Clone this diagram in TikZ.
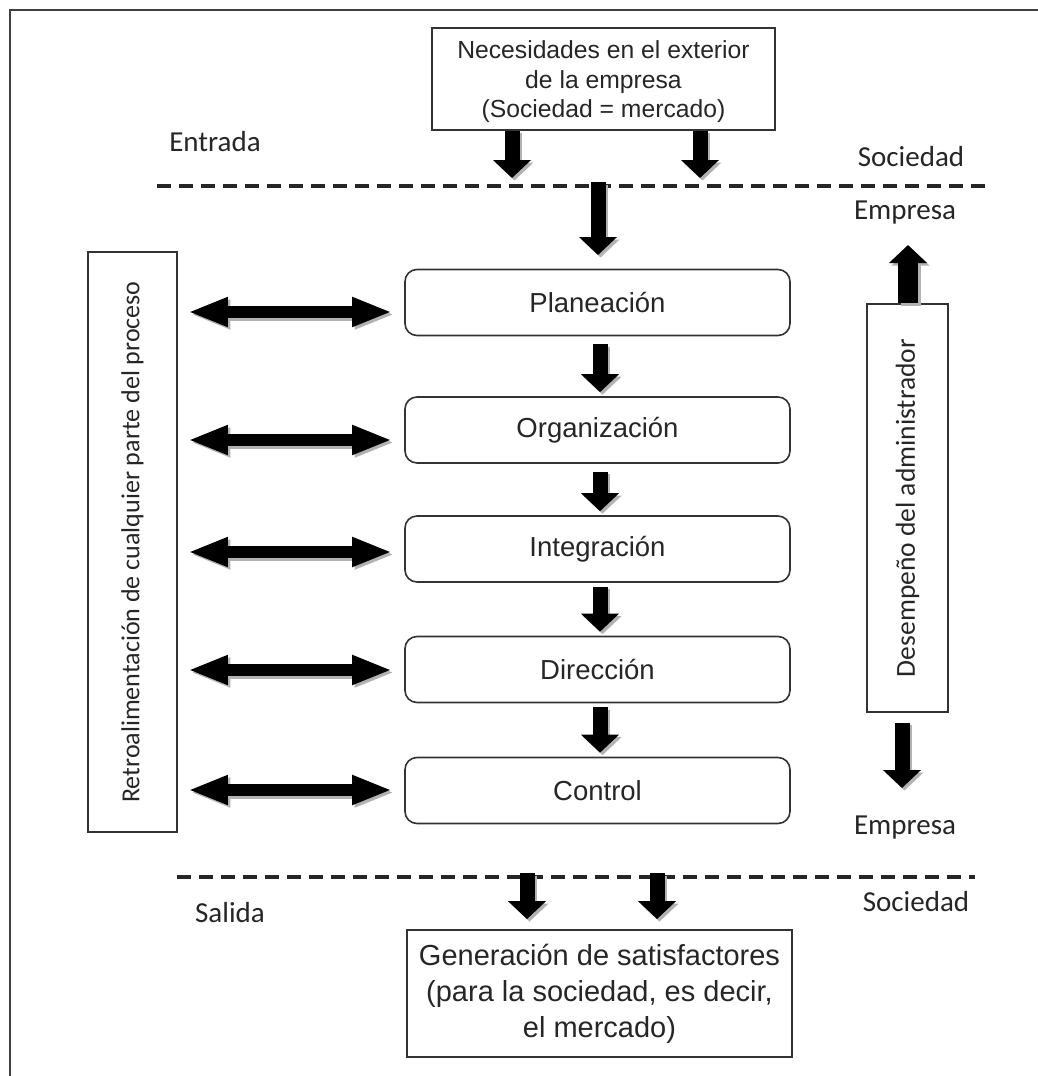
\documentclass[tikz,border=0pt]{standalone}
\usepackage{fontspec}
\usepackage{graphicx}
\setmainfont{Liberation Sans}
\newfontfamily\calibri{Carlito}
\usetikzlibrary{arrows.meta}

\tikzset{
  frame/.style={draw=black!75, line width=2.2pt},
  stagebox/.style={draw=black!80, line width=1.6pt, rounded corners=12pt,
    minimum width=385pt, minimum height=66pt, inner sep=0pt,
    font=\fontsize{27.5}{32}\selectfont, text=black!85},
  plainbox/.style={draw=black!80, line width=1.8pt, align=center, inner sep=0pt,
    font=\fontsize{24.7}{29.5}\selectfont, text=black!85},
  sidebox/.style={draw=black!80, line width=1.8pt, inner sep=0pt,
    font=\calibri\fontsize{26}{30}\selectfont, text=black!85},
  zonelabel/.style={font=\calibri\fontsize{29}{34}\selectfont, text=black!85, inner sep=0pt},
  divider/.style={line width=3.5pt, dash pattern=on 14pt off 8pt, draw=black!85},
  fatdown/.style={line width=15pt, -{Triangle[width=37pt,length=18pt]}},
  fatboth/.style={line width=12pt,
    {Triangle[width=27pt,length=40pt]}-{Triangle[width=27pt,length=40pt]}},
}

% block arrow with a soft drop shadow to the lower right
\newcommand\fatarrow[3]{%
  \begin{scope}[transform canvas={xshift=2.5pt,yshift=-2.5pt}]
    \draw[#1, draw=black!30, fill=black!30] #2 -- #3;
  \end{scope}
  \draw[#1, draw=black, fill=black] #2 -- #3;}

\begin{document}
\begin{tikzpicture}[x=1pt,y=-1pt]
\useasboundingbox (0,0) rectangle (1037,1076);
\fill[white] (0,0) rectangle (1037,1076);

% page frame (open to the right and bottom)
\draw[frame] (10,1080) -- (10,10) -- (1040,10);

% input and output
\node[plainbox, minimum width=343pt, minimum height=102pt] (need) at (603.5,79) {};
\node[align=center, inner sep=0pt, font=\fontsize{24.7}{29.5}\selectfont, text=black!85]
  (needtext) at (603.5,82)
  {Necesidades en el exterior\\de la empresa\\(Sociedad = mercado)};
\node[plainbox, minimum width=385pt, minimum height=127pt,
      font=\fontsize{29}{36}\selectfont] (out) at (599.5,993.5)
  {Generación de satisfactores\\(para la sociedad, es decir,\\el mercado)};

% stages of the process
\node[stagebox] (plan) at (597.5,302.5) {Planeación};
\node[stagebox] (org)  at (597.5,430)   {Organización};
\node[stagebox] (int)  at (597.5,549)   {Integración};
\node[stagebox] (dir)  at (597.5,669.5) {Dirección};
\node[stagebox] (ctrl) at (597.5,790.5) {Control};

% side boxes
\node[sidebox, minimum width=89pt, minimum height=580pt] (retro) at (132.5,542)
  {\rotatebox{90}{Retroalimentación de cualquier parte del proceso}};
\node[sidebox, minimum width=81pt, minimum height=408pt,
      font=\calibri\fontsize{27.5}{30}\selectfont] (perf) at (907.5,508)
  {\rotatebox{90}{Desempeño del administrador}};

% zone labels
\node[zonelabel] (entrada) at (215,142) {Entrada};
\node[zonelabel] (soc1) at (911,157) {Sociedad};
\node[zonelabel] (emp1) at (905,213) {Empresa};
\node[zonelabel] (emp2) at (905,828) {Empresa};
\node[zonelabel] (soc2) at (916,902) {Sociedad};
\node[zonelabel] (salida) at (230,913) {Salida};

% society / company boundaries
\coordinate (b1l) at (157,186);
\coordinate (b1r) at (985,186);
\coordinate (b2l) at (177,877);
\coordinate (b2r) at (975,877);
\draw[divider] (b1l) -- (b1r);
\draw[divider] (b2l) -- (b2r);

% arrow end points
\coordinate (in1) at (512,178);
\coordinate (in2) at (700,178);
\coordinate (c0)  at (598,182);
\coordinate (c1)  at (598,255);
\coordinate (o1)  at (527,873);
\coordinate (o2)  at (657,873);
\coordinate (up)  at (908,245);
\coordinate (dn)  at (902,788);
\coordinate (mid) at (600,0);
\coordinate (rowA) at (0,312);
\coordinate (rowB) at (0,440);
\coordinate (rowC) at (0,552);
\coordinate (rowD) at (0,670);
\coordinate (rowE) at (0,790);

% input arrows
\fatarrow{fatdown}{(need.south -| in1)}{(in1)}
\fatarrow{fatdown}{(need.south -| in2)}{(in2)}
\fatarrow{fatdown}{(c0)}{(c1)}

% flow between the stages
\fatarrow{fatdown, shorten <=8pt, shorten >=4pt}{(plan.south -| mid)}{(org.north -| mid)}
\fatarrow{fatdown, shorten <=8pt, shorten >=4pt}{(org.south -| mid)}{(int.north -| mid)}
\fatarrow{fatdown, shorten <=4pt, shorten >=4pt}{(int.south -| mid)}{(dir.north -| mid)}
\fatarrow{fatdown, shorten <=4pt, shorten >=4pt}{(dir.south -| mid)}{(ctrl.north -| mid)}

% feedback arrows
\fatarrow{fatboth, shorten <=10pt, shorten >=12pt}{(retro.east |- rowA)}{(plan.west |- rowA)}
\fatarrow{fatboth, shorten <=10pt, shorten >=12pt}{(retro.east |- rowB)}{(org.west |- rowB)}
\fatarrow{fatboth, shorten <=10pt, shorten >=12pt}{(retro.east |- rowC)}{(int.west |- rowC)}
\fatarrow{fatboth, shorten <=10pt, shorten >=12pt}{(retro.east |- rowD)}{(dir.west |- rowD)}
\fatarrow{fatboth, shorten <=10pt, shorten >=12pt}{(retro.east |- rowE)}{(ctrl.west |- rowE)}

% manager's performance arrows
\fatarrow{fatdown, line width=20pt}{(perf.north -| up)}{(up)}
\fatarrow{fatdown, shorten <=10pt}{(perf.south -| dn)}{(dn)}

% output arrows
\fatarrow{fatdown, shorten >=10pt}{(o1)}{(out.north -| o1)}
\fatarrow{fatdown, shorten >=10pt}{(o2)}{(out.north -| o2)}
\end{tikzpicture}
\end{document}
